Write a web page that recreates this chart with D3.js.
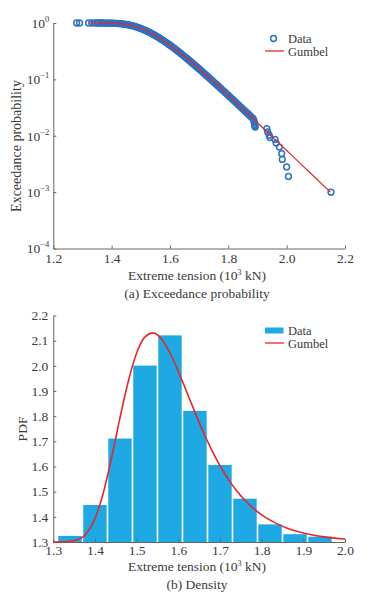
<!DOCTYPE html>
<html>
<head>
<meta charset="utf-8">
<script src="https://cdn.jsdelivr.net/npm/d3@7"></script>
<style>
    body { margin: 0; background: #fff; }
    text { font-family: "Liberation Serif", "Times New Roman", serif; fill: #3a3a3a; }
    .axis path, .axis line { stroke: #666; }
</style>
</head>
<body>
<svg id="chart" width="372" height="594"></svg>
<script>
// ---- (a) exceedance probability: [tension (10^3 kN), probability] ----
const dataA = [
    [1.280, 1.0], [1.290, 1.0], [1.321, 1.0], [1.332, 1.0], [1.344, 0.9999],
    [1.350, 0.9999], [1.355, 0.9998], [1.360, 0.9996], [1.365, 0.9994], [1.370, 0.9991],
    [1.375, 0.9987], [1.380, 0.9982], [1.385, 0.9974], [1.390, 0.9964], [1.395, 0.9951],
    [1.400, 0.9934], [1.405, 0.9912], [1.410, 0.9887], [1.415, 0.9854], [1.420, 0.9817],
    [1.425, 0.9770], [1.430, 0.9719], [1.435, 0.9655], [1.440, 0.9587], [1.445, 0.9505],
    [1.450, 0.9418], [1.455, 0.9317], [1.460, 0.9211], [1.465, 0.9090], [1.470, 0.8963],
    [1.475, 0.8822], [1.480, 0.8677], [1.485, 0.8520], [1.490, 0.8357], [1.495, 0.8182],
    [1.500, 0.8003], [1.505, 0.7817], [1.510, 0.7628], [1.515, 0.7429], [1.520, 0.7231],
    [1.525, 0.7027], [1.530, 0.6821], [1.535, 0.6614], [1.540, 0.6406], [1.545, 0.6196],
    [1.550, 0.5987], [1.555, 0.5779], [1.560, 0.5574], [1.565, 0.5370], [1.570, 0.5169],
    [1.575, 0.4970], [1.580, 0.4776], [1.585, 0.4584], [1.590, 0.4398], [1.595, 0.4216],
    [1.600, 0.4039], [1.605, 0.3866], [1.610, 0.3698], [1.615, 0.3535], [1.620, 0.3378],
    [1.625, 0.3225], [1.630, 0.3078], [1.635, 0.2937], [1.640, 0.2799], [1.645, 0.2668],
    [1.650, 0.2541], [1.655, 0.2419], [1.660, 0.2302], [1.665, 0.2190], [1.670, 0.2082],
    [1.675, 0.1979], [1.680, 0.1881], [1.685, 0.1787], [1.690, 0.1697], [1.695, 0.1611],
    [1.700, 0.1530], [1.705, 0.1452], [1.710, 0.1377], [1.715, 0.1306], [1.720, 0.1239],
    [1.725, 0.1175], [1.730, 0.1114], [1.735, 0.1056], [1.740, 0.1000], [1.745, 0.0947],
    [1.750, 0.0897], [1.755, 0.0850], [1.760, 0.0806], [1.765, 0.0763], [1.770, 0.0722],
    [1.775, 0.0684], [1.780, 0.0647], [1.785, 0.0613], [1.790, 0.0580], [1.795, 0.0549],
    [1.800, 0.0519], [1.805, 0.0491], [1.810, 0.0465], [1.815, 0.0440], [1.820, 0.0416],
    [1.825, 0.0393], [1.830, 0.0372], [1.835, 0.0352], [1.840, 0.0333], [1.845, 0.0314],
    [1.850, 0.0297], [1.855, 0.0281], [1.860, 0.0266], [1.865, 0.0251], [1.870, 0.0238],
    [1.875, 0.0225], [1.880, 0.0212], [1.885, 0.0201], [1.888, 0.0185], [1.889, 0.0170],
    [1.890, 0.0158], [1.891, 0.0150], [1.892, 0.0143],
    // sparse tail
    [1.932, 0.0134], [1.935, 0.0117], [1.940, 0.0102], [1.943, 0.0093], [1.960, 0.0086],
    [1.964, 0.0074], [1.975, 0.0063], [1.983, 0.0048], [1.985, 0.0038], [2.000, 0.0028],
    [2.006, 0.0019], [2.152, 0.0010]
];

const gumbelA = [
    [1.32, 1.0], [1.35, 0.9999], [1.38, 0.9982], [1.40, 0.9934], [1.42, 0.9817],
    [1.45, 0.942], [1.47, 0.8963], [1.50, 0.800], [1.55, 0.599], [1.60, 0.404],
    [1.65, 0.254], [1.70, 0.153], [1.75, 0.0897], [1.80, 0.0519], [1.85, 0.0297],
    [1.90, 0.0170], [1.95, 0.00965], [2.00, 0.00548], [2.05, 0.00311], [2.10, 0.00176],
    [2.15, 0.00100]
];

const ticksA = [1.2, 1.4, 1.6, 1.8, 2.0, 2.2];
const decadesA = [1e-4, 1e-3, 1e-2, 1e-1, 1];
const expLabels = ["\u22124", "\u22123", "\u22122", "\u22121", "0"];

// ---- (b) density ----
const binCenters = [1.34, 1.40, 1.46, 1.52, 1.58, 1.64, 1.70, 1.76, 1.82, 1.88, 1.94];
const binPdf = [1.324, 1.447, 1.711, 2.001, 2.121, 1.821, 1.606, 1.472, 1.370, 1.331, 1.321];
const binWidth = 0.06;

const gumbelB = [
    [1.30, 1.300], [1.33, 1.3006], [1.36, 1.3096], [1.38, 1.335], [1.40, 1.393],
    [1.42, 1.495], [1.44, 1.636], [1.46, 1.793], [1.48, 1.939], [1.50, 2.051],
    [1.52, 2.115], [1.54, 2.131], [1.56, 2.106], [1.58, 2.051], [1.60, 1.978],
    [1.62, 1.897], [1.64, 1.815], [1.66, 1.737], [1.68, 1.666], [1.70, 1.603],
    [1.72, 1.549], [1.74, 1.504], [1.76, 1.466], [1.78, 1.434], [1.80, 1.408],
    [1.83, 1.378], [1.86, 1.356], [1.90, 1.336], [1.95, 1.3205], [2.00, 1.3117]
];

const ticksBx = [1.3, 1.4, 1.5, 1.6, 1.7, 1.8, 1.9, 2.0];
const ticksBy = [1.3, 1.4, 1.5, 1.6, 1.7, 1.8, 1.9, 2.0, 2.1, 2.2];

const blue = "#2b72c2";
const barBlue = "#1ea9e4";
const red = "#e8262a";
const tickFont = 13.5;

let svg = d3.select("#chart");

// ================= (a) =================
let xA = d3.scaleLinear().domain([1.2, 2.2]).range([53.3, 345]);
let yA = d3.scaleLog().domain([1e-4, 1]).range([248.5, 23]);

let gA = svg.append("g");

gA.append("g")
    .attr("class", "axis")
    .attr("transform", "translate(0,248.5)")
    .call(d3.axisBottom(xA).tickValues(ticksA).tickFormat(d3.format(".1f"))
        .tickSizeInner(-3).tickSizeOuter(0).tickPadding(4.5))
    .call(g => g.selectAll("text").attr("font-size", tickFont).attr("font-family", null));

let yAxisA = gA.append("g")
    .attr("class", "axis")
    .attr("transform", "translate(53.3,0)")
    .call(d3.axisLeft(yA).tickValues(decadesA).tickFormat("")
        .tickSizeInner(-3).tickSizeOuter(0).tickPadding(4));

yAxisA.selectAll(".tick text").each(function(d, i) {
    let t = d3.select(this)
        .attr("font-size", tickFont)
        .attr("font-family", null)
        .attr("x", -4)
        .attr("dy", "0.32em")
        .attr("text-anchor", "end");
    t.append("tspan").text("10");
    t.append("tspan").attr("font-size", 8.5).attr("dy", -6).text(expLabels[i]);
});

gA.selectAll(".pt")
    .data(dataA)
    .enter()
    .append("circle")
    .attr("class", "pt")
    .attr("cx", d => xA(d[0]))
    .attr("cy", d => yA(d[1]))
    .attr("r", 2.9)
    .attr("fill", "none")
    .attr("stroke", blue)
    .attr("stroke-width", 1.5);

// red fit line drawn over the markers
gA.append("path")
    .datum(gumbelA)
    .attr("fill", "none")
    .attr("stroke", red)
    .attr("stroke-width", 1.2)
    .attr("d", d3.line().x(d => xA(d[0])).y(d => yA(d[1])).curve(d3.curveMonotoneX));

// legend
gA.append("circle").attr("cx", 273.5).attr("cy", 38.5).attr("r", 2.9)
    .attr("fill", "none").attr("stroke", blue).attr("stroke-width", 1.5);
gA.append("text").attr("x", 288).attr("y", 42.5).attr("font-size", 12.5).text("Data");
gA.append("line").attr("x1", 265).attr("x2", 284).attr("y1", 51).attr("y2", 51)
    .attr("stroke", red).attr("stroke-width", 1.3);
gA.append("text").attr("x", 288).attr("y", 55.5).attr("font-size", 12.5).text("Gumbel");

// labels
gA.append("text")
    .attr("transform", "translate(21,146) rotate(-90)")
    .attr("text-anchor", "middle")
    .attr("font-size", 14)
    .text("Exceedance probability");

let xlabA = gA.append("text").attr("x", 197).attr("y", 279.5).attr("text-anchor", "middle").attr("font-size", 13.5);
xlabA.append("tspan").text("Extreme tension (10");
xlabA.append("tspan").attr("font-size", 8).attr("dy", -5).text("3");
xlabA.append("tspan").attr("dy", 5).text(" kN)");

gA.append("text").attr("x", 197).attr("y", 297.5).attr("text-anchor", "middle")
    .attr("font-size", 13.5).text("(a) Exceedance probability");

// ================= (b) =================
let xB = d3.scaleLinear().domain([1.3, 2.0]).range([53.3, 345]);
let yB = d3.scaleLinear().domain([1.3, 2.2]).range([542, 315.5]);

let gB = svg.append("g");

gB.selectAll(".bar")
    .data(binCenters)
    .enter()
    .append("rect")
    .attr("class", "bar")
    .attr("x", d => xB(d - binWidth / 2) + 0.8)
    .attr("width", xB(1.3 + binWidth) - xB(1.3) - 1.6)
    .attr("y", (d, i) => yB(binPdf[i]))
    .attr("height", (d, i) => yB(1.3) - yB(binPdf[i]))
    .attr("fill", barBlue);

gB.append("g")
    .attr("class", "axis")
    .attr("transform", "translate(0,542)")
    .call(d3.axisBottom(xB).tickValues(ticksBx).tickFormat(d3.format(".1f"))
        .tickSizeInner(-3).tickSizeOuter(0).tickPadding(3))
    .call(g => g.selectAll("text").attr("font-size", tickFont).attr("font-family", null));

gB.append("g")
    .attr("class", "axis")
    .attr("transform", "translate(53.3,0)")
    .call(d3.axisLeft(yB).tickValues(ticksBy).tickFormat(d3.format(".1f"))
        .tickSizeInner(-3).tickSizeOuter(0).tickPadding(5))
    .call(g => g.selectAll("text").attr("font-size", tickFont).attr("font-family", null));

gB.append("path")
    .datum(gumbelB)
    .attr("fill", "none")
    .attr("stroke", red)
    .attr("stroke-width", 1.6)
    .attr("d", d3.line().x(d => xB(d[0])).y(d => yB(d[1])).curve(d3.curveMonotoneX));

// legend
gB.append("rect").attr("x", 265).attr("y", 327.5).attr("width", 18.5).attr("height", 6)
    .attr("fill", barBlue);
gB.append("text").attr("x", 288).attr("y", 334.5).attr("font-size", 12.5).text("Data");
gB.append("line").attr("x1", 265).attr("x2", 284).attr("y1", 343).attr("y2", 343)
    .attr("stroke", red).attr("stroke-width", 1.3);
gB.append("text").attr("x", 288).attr("y", 347.5).attr("font-size", 12.5).text("Gumbel");

gB.append("text")
    .attr("transform", "translate(27,429) rotate(-90)")
    .attr("text-anchor", "middle")
    .attr("font-size", 13.5)
    .text("PDF");

let xlabB = gB.append("text").attr("x", 197).attr("y", 571).attr("text-anchor", "middle").attr("font-size", 13.5);
xlabB.append("tspan").text("Extreme tension (10");
xlabB.append("tspan").attr("font-size", 8).attr("dy", -5).text("3");
xlabB.append("tspan").attr("dy", 5).text(" kN)");

gB.append("text").attr("x", 197).attr("y", 588.5).attr("text-anchor", "middle")
    .attr("font-size", 13.5).text("(b) Density");
</script>
</body>
</html>
